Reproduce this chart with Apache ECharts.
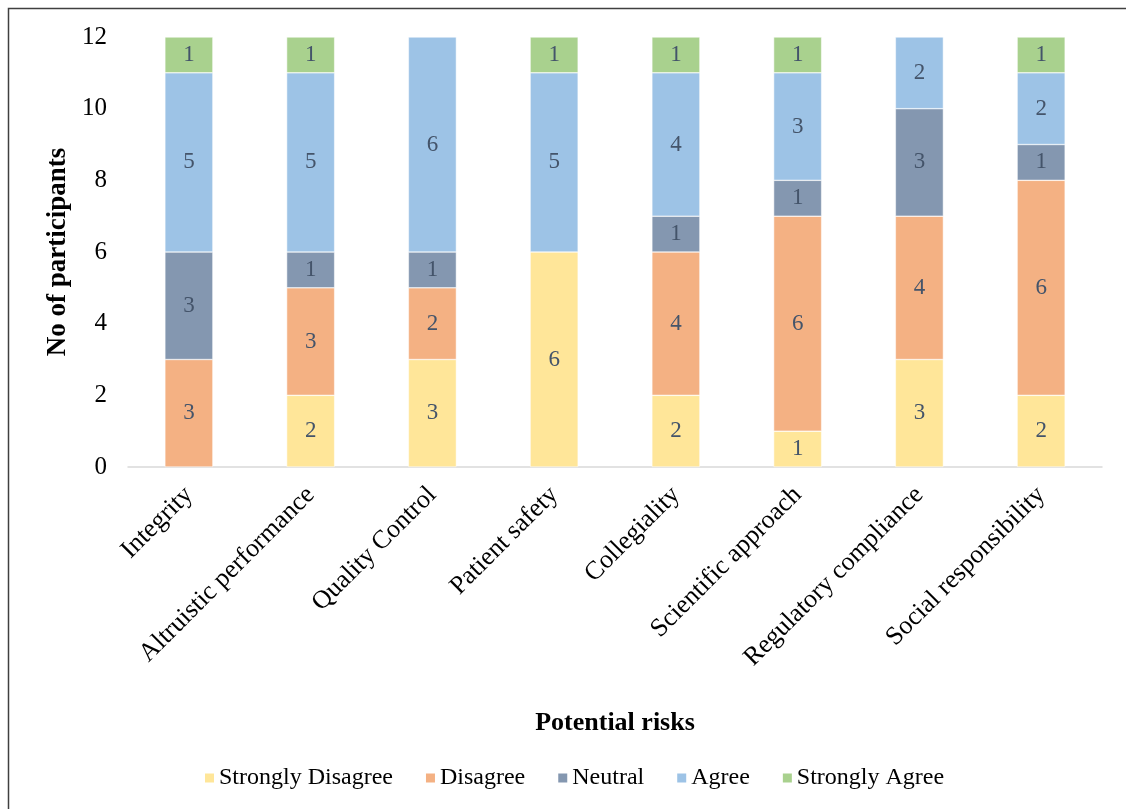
<!DOCTYPE html>
<html style="height: 100%">
<head>
<meta charset="utf-8">
</head>
<body style="height: 100%; margin: 0; background: #fff">
<div id="container" style="width: 1126px; height: 809px"></div>
<script src="https://cdn.jsdelivr.net/npm/echarts@6/dist/echarts.min.js"></script>
<script type="text/javascript">
var categories = ['Integrity', 'Altruistic performance', 'Quality Control', 'Patient safety',
  'Collegiality', 'Scientific approach', 'Regulatory compliance', 'Social responsibility'];
var stronglyDisagree = [0, 2, 3, 6, 2, 1, 3, 2];
var disagree = [3, 3, 2, 0, 4, 6, 4, 6];
var neutral = [3, 1, 1, 0, 1, 1, 3, 1];
var agree = [5, 5, 6, 5, 4, 3, 2, 2];
var stronglyAgree = [1, 1, 0, 1, 1, 1, 0, 1];
var seriesNames = ['Strongly Disagree', 'Disagree', 'Neutral', 'Agree', 'Strongly Agree'];
var seriesData = [stronglyDisagree, disagree, neutral, agree, stronglyAgree];
var colors = ['#FFE699', '#F4B183', '#8497B0', '#9DC3E6', '#A9D18E'];

var font = '"Liberation Serif", "Times New Roman", serif';
var myChart = echarts.init(document.getElementById('container'));

var series = seriesNames.map(function (name, i) {
  return {
    name: name,
    type: 'bar',
    stack: 'total',
    barWidth: 48,
    data: seriesData[i].map(function (v) { return v === 0 ? null : v; }),
    itemStyle: { color: colors[i], borderColor: '#fff', borderWidth: 0.5 },
    label: {
      show: true,
      color: '#44546A',
      fontFamily: font,
      fontSize: 23
    }
  };
});

var option = {
  animation: false,
  textStyle: { fontFamily: font },
  color: colors,
  graphic: [{
    type: 'rect',
    shape: { x: 8.5, y: 8.5, width: 1200, height: 900 },
    style: { fill: 'none', stroke: '#404040', lineWidth: 1.5 }
  }],
  grid: { left: 128, right: 24, top: 37, bottom: 342 },
  legend: {
    bottom: 14,
    left: 198,
    itemWidth: 11,
    itemHeight: 11,
    itemGap: 31,
    icon: 'rect',
    textStyle: { fontFamily: font, fontSize: 24, color: '#000', padding: [0, 0, 0, -1] },
    data: seriesNames
  },
  xAxis: {
    type: 'category',
    data: categories,
    name: 'Potential risks',
    nameLocation: 'middle',
    nameGap: 243,
    nameTextStyle: { fontFamily: font, fontSize: 26, fontWeight: 'bold', color: '#000' },
    axisLine: { lineStyle: { color: '#D9D9D9', width: 1.5 } },
    axisTick: { show: false },
    axisLabel: { rotate: 45, fontFamily: font, fontSize: 26, color: '#000', margin: 24, interval: 0 }
  },
  yAxis: {
    type: 'value',
    min: 0,
    max: 12,
    interval: 2,
    name: 'No of participants',
    nameLocation: 'middle',
    nameGap: 56,
    nameTextStyle: { fontFamily: font, fontSize: 27, fontWeight: 'bold', color: '#000' },
    axisLine: { show: false },
    axisTick: { show: false },
    splitLine: { show: false },
    axisLabel: { fontFamily: font, fontSize: 25, color: '#000', margin: 21 }
  },
  series: series
};
myChart.setOption(option);
</script>
</body>
</html>
